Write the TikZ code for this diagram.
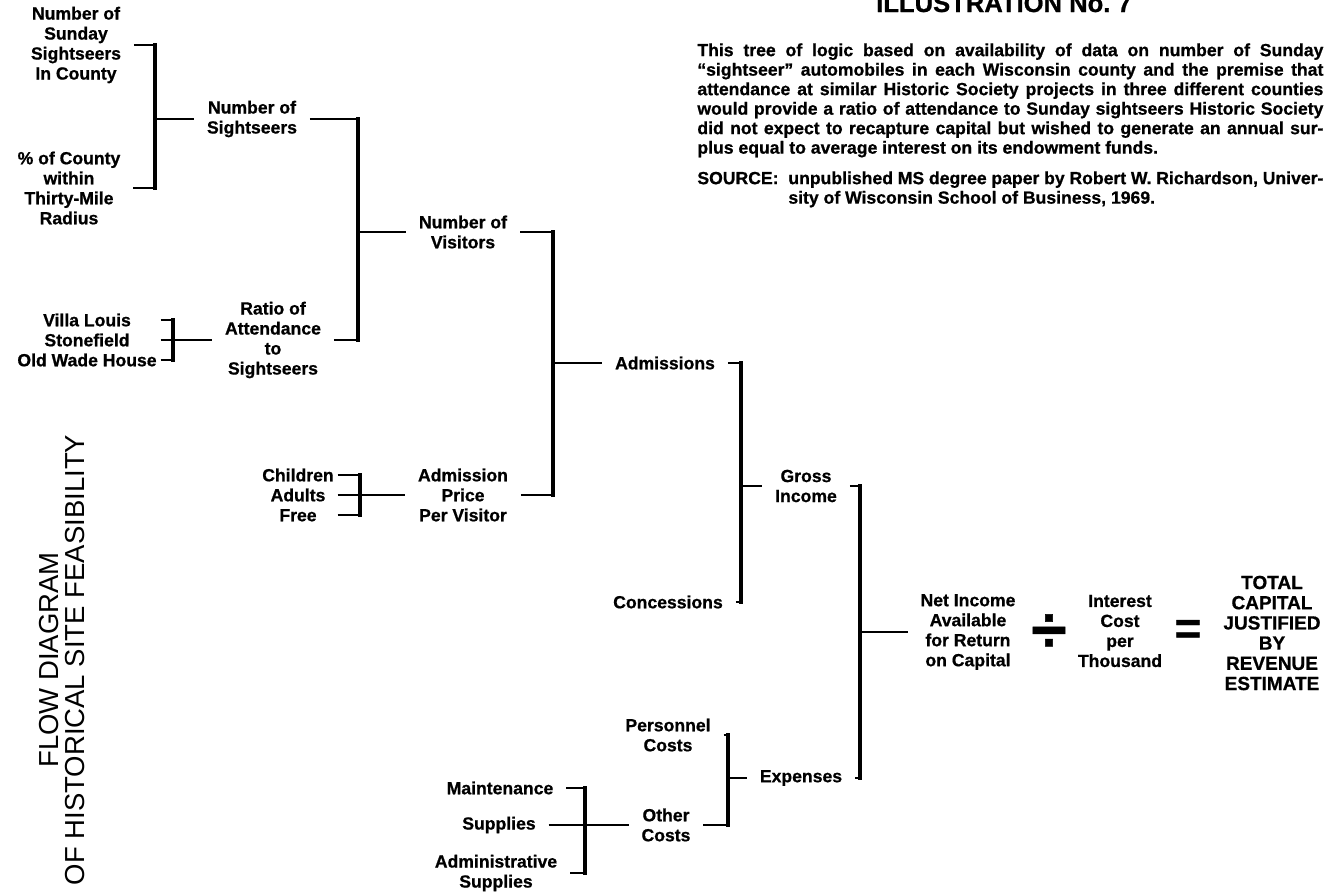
\documentclass[tikz,border=0pt]{standalone}
\usepackage{fontspec}
\setmainfont{Liberation Sans}
\newfontfamily\heavy{Liberation Sans}[Ligatures=TeX, BoldFeatures={FakeBold=0.8}]
\newcommand\notefont{\fontsize{8.8}{9.75}\selectfont\heavy\bfseries}
\begin{document}
\begin{tikzpicture}[x=0.5pt,y=-0.5pt,
  lbl/.style={font=\fontsize{8.8}{10}\selectfont\heavy\bfseries, align=center,
              inner xsep=6.5pt, inner ysep=0pt, outer sep=0pt},
  tight/.style={lbl, inner xsep=2pt},
  big/.style={font=\fontsize{9.5}{10.1}\selectfont\heavy\bfseries, align=center, inner sep=0pt},
  para/.style={font=\notefont, align=left, inner sep=0pt},
  title/.style={font=\fontsize{13.75}{14}\selectfont, rotate=90, inner sep=0pt},
  spine/.style={line width=1.8pt, line cap=rect},
  stub/.style={line width=1pt},
  link/.style={line width=0.8pt},
]
\useasboundingbox (0,0) rectangle (1329,894);

% heading and note
\node[font=\fontsize{12.8}{14}\selectfont\heavy\bfseries, anchor=base, inner sep=0pt]
  (head) at (1004,12) {ILLUSTRATION No.\ 7};
\node[para, anchor=north west] (note) at (697,43) {%
\makebox[313pt][s]{This tree of logic based on availability of data on number of Sunday}\\
\makebox[313pt][s]{“sightseer” automobiles in each Wisconsin county and the premise that}\\
\makebox[313pt][s]{attendance at similar Historic Society projects in three different counties}\\
\makebox[313pt][s]{would provide a ratio of attendance to Sunday sightseers Historic Society}\\
\makebox[313pt][s]{did not expect to recapture capital but wished to generate an annual sur-}\\
plus equal to average interest on its endowment funds.};
\node[para, anchor=north west] (source) at (697,171) {%
\makebox[45.5pt][l]{SOURCE:}\makebox[267.5pt][s]{unpublished MS degree paper by Robert W. Richardson, Univer-}\\
\hspace*{45.5pt}sity of Wisconsin School of Business, 1969.};

% side title
\node[title] (t1) at (49,660) {FLOW DIAGRAM};
\node[title] (t2) at (75,660) {OF HISTORICAL SITE FEASIBILITY};

% labels
\node[lbl] (A1) at (76,45) {Number of\\Sunday\\Sightseers\\In County};
\node[lbl] (A2) at (69,188) {\% of County\\within\\Thirty-Mile\\Radius};
\node[lbl] (B1) at (252,119) {Number of\\Sightseers};
\node[tight] (C1) at (87,340) {Villa Louis\\Stonefield\\Old Wade House};
\node[lbl] (B2) at (273,340) {Ratio of\\Attendance\\to\\Sightseers};
\node[lbl] (D1) at (463,232) {Number of\\Visitors};
\node[tight] (D0) at (298,495) {Children\\Adults\\Free};
\node[lbl] (D2) at (463,495) {Admission\\Price\\Per Visitor};
\node[lbl] (E1) at (665,363) {Admissions};
\node[lbl] (E2) at (668,602) {Concessions};
\node[lbl] (F1) at (806,486) {Gross\\Income};
\node[lbl] (F2) at (801,778) {Expenses};
\node[lbl] (G1) at (668,735) {Personnel\\Costs};
\node[lbl] (G2) at (666,825) {Other\\Costs};
\node[lbl] (H1) at (500,788) {Maintenance};
\node[lbl] (H2) at (499,825) {Supplies};
\node[lbl] (H3) at (496,873) {Administrative\\Supplies};
\node[lbl] (N) at (968,632) {Net Income\\Available\\for Return\\on Capital};
\node[font=\fontsize{32}{32}\selectfont\heavy\bfseries, inner sep=0pt] (div) at (1049,633) {÷};
\node[lbl] (I) at (1120,631) {Interest\\Cost\\per\\Thousand};
\node[font=\fontsize{23}{23}\selectfont\heavy\bfseries, inner sep=0pt] (eq) at (1188,632) {=};
\node[big] (T) at (1272,633) {TOTAL\\CAPITAL\\JUSTIFIED\\BY\\REVENUE\\ESTIMATE};

% spine positions of the brackets
\coordinate (s1) at (155,0);
\coordinate (s2) at (358,0);
\coordinate (s3) at (173,0);
\coordinate (s4) at (360,0);
\coordinate (s5) at (553,0);
\coordinate (s6) at (741,0);
\coordinate (s7) at (860,0);
\coordinate (s8) at (728,0);
\coordinate (s9) at (585,0);

% first and last lines of the three-line lists
\coordinate (C1a) at ([yshift=10pt]C1.east);
\coordinate (C1c) at ([yshift=-10pt]C1.east);
\coordinate (D0a) at ([yshift=10pt]D0.east);
\coordinate (D0c) at ([yshift=-10pt]D0.east);

% sunday sightseers + radius -> number of sightseers
\draw[stub] (A1.east) -- (A1 -| s1);
\draw[stub] (A2.east) -- (A2 -| s1);
\draw[spine] (A1 -| s1) -- (A2 -| s1);
\draw[link] (B1 -| s1) -- (B1.west);

% three sites -> ratio
\draw[stub] (C1a) -- (C1a -| s3);
\draw[stub] (C1.east) -- (C1 -| s3);
\draw[stub] (C1c) -- (C1c -| s3);
\draw[spine] (C1a -| s3) -- (C1c -| s3);
\draw[link] (B2 -| s3) -- (B2.west);

% sightseers + ratio -> visitors
\draw[stub] (B1.east) -- (B1 -| s2);
\draw[stub] (B2.east) -- (B2 -| s2);
\draw[spine] (B1 -| s2) -- (B2 -| s2);
\draw[link] (D1 -| s2) -- (D1.west);

% ticket classes -> admission price
\draw[stub] (D0a) -- (D0a -| s4);
\draw[stub] (D0.east) -- (D0 -| s4);
\draw[stub] (D0c) -- (D0c -| s4);
\draw[spine] (D0a -| s4) -- (D0c -| s4);
\draw[link] (D2 -| s4) -- (D2.west);

% visitors + price -> admissions
\draw[stub] (D1.east) -- (D1 -| s5);
\draw[stub] (D2.east) -- (D2 -| s5);
\draw[spine] (D1 -| s5) -- (D2 -| s5);
\draw[link] (E1 -| s5) -- (E1.west);

% admissions + concessions -> gross income
\draw[stub] (E1.east) -- (E1 -| s6);
\draw[stub] (E2.east) -- (E2 -| s6);
\draw[spine] (E1 -| s6) -- (E2 -| s6);
\draw[link] (F1 -| s6) -- (F1.west);

% supplies -> other costs
\draw[stub] (H1.east) -- (H1 -| s9);
\draw[stub] (H2.east) -- (H2 -| s9);
\draw[stub] (H3.east) -- (H3 -| s9);
\draw[spine] (H1 -| s9) -- (H3 -| s9);
\draw[link] (G2 -| s9) -- (G2.west);

% personnel + other costs -> expenses
\draw[stub] (G1.east) -- (G1 -| s8);
\draw[stub] (G2.east) -- (G2 -| s8);
\draw[spine] (G1 -| s8) -- (G2 -| s8);
\draw[link] (F2 -| s8) -- (F2.west);

% gross income + expenses -> net income
\draw[stub] (F1.east) -- (F1 -| s7);
\draw[stub] (F2.east) -- (F2 -| s7);
\draw[spine] (F1 -| s7) -- (F2 -| s7);
\draw[link] (N -| s7) -- (N.west);
\end{tikzpicture}
\end{document}
